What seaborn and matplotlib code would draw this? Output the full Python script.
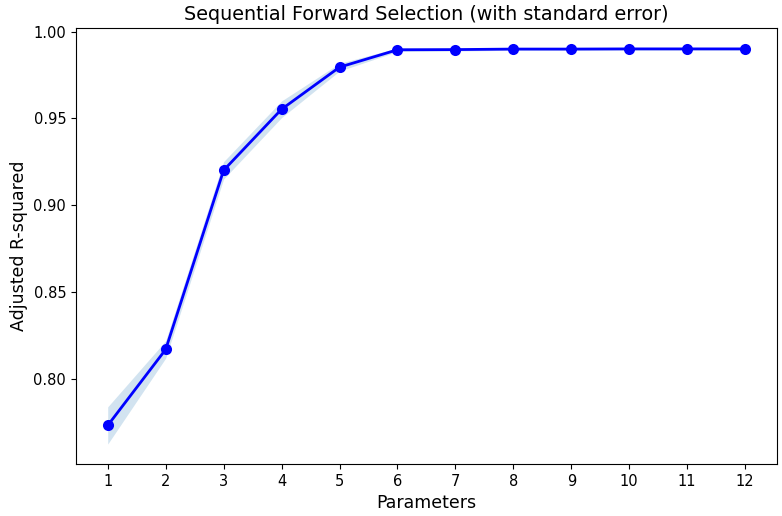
import numpy as np
import matplotlib
matplotlib.use("Agg")
import matplotlib.pyplot as plt
import seaborn as sns

# number of parameters selected at each step
n_params = [1, 2, 3, 4, 5, 6, 7, 8, 9, 10, 11, 12]
# mean adjusted R-squared across folds
adj_r2 = [0.7735, 0.8172, 0.9202, 0.9553, 0.9795, 0.9895, 0.9896, 0.9899, 0.9899, 0.9900, 0.9900, 0.9900]
# standard error of the mean
std_err = [0.0107, 0.0050, 0.0050, 0.0048, 0.0022, 0.0010, 0.0008, 0.0007, 0.0007, 0.0007, 0.0007, 0.0007]

x = np.array(n_params)
y = np.array(adj_r2)
se = np.array(std_err)

fig = plt.figure(figsize=(7.82, 5.16), dpi=100)
ax = fig.add_axes([0.097, 0.101, 0.8966, 0.845])

ax.fill_between(x, y - se, y + se, color="C0", alpha=0.2, linewidth=0)
sns.lineplot(x=x, y=y, ax=ax, color="blue", marker="o", markersize=8,
             markeredgewidth=0, linewidth=2)

ax.set_xticks(n_params)
ax.set_title("Sequential Forward Selection (with standard error)", fontsize=13.8)
ax.set_xlabel("Parameters", fontsize=12.5)
ax.set_ylabel("Adjusted R-squared", fontsize=12.5)
ax.tick_params(labelsize=10.5)

fig.savefig("out.png", dpi=100)
